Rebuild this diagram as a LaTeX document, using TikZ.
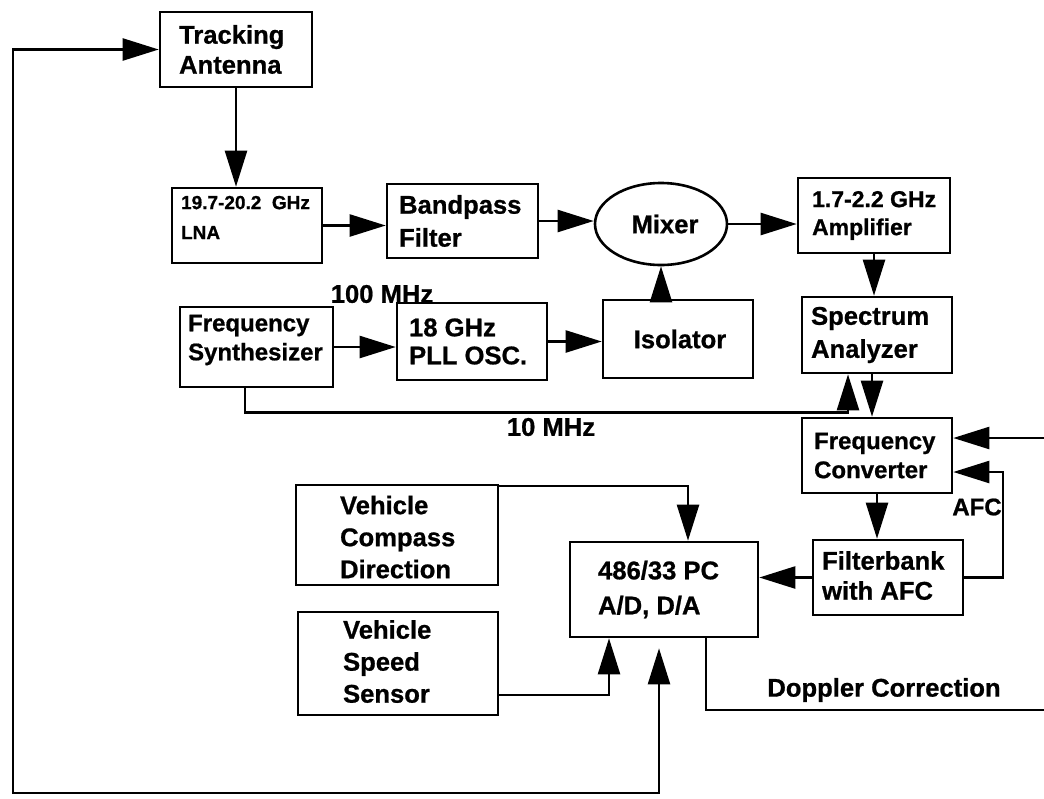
\documentclass[tikz,border=0pt]{standalone}
\usepackage{fontspec}
\setmainfont{Liberation Sans}[BoldFeatures={FakeBold=0.8}]
\usetikzlibrary{arrows.meta,shapes.geometric}
\begin{document}
\begin{tikzpicture}[x=0.5pt,y=-0.5pt,
  blk/.style={draw,line width=1.3pt,inner sep=0pt},
  txt/.style={anchor=west,align=left,inner sep=0pt},
  big/.style={font=\bfseries\fontsize{12.8}{#1}\selectfont},
  lbl/.style={inner sep=0pt,font=\bfseries\fontsize{12.8}{15}\selectfont},
  wire/.style={line width=1.2pt},
  tip/.tip={Triangle[length=18pt,width=11pt]},
  arr/.style={wire,-tip},
]
\useasboundingbox (0,0) rectangle (1044,798);

% boxes
\node[blk,minimum width=76pt,minimum height=37.5pt] (ant) at (236,49.5) {};
\node[blk,minimum width=75pt,minimum height=37.5pt] (lna) at (247,225.5) {};
\node[blk,minimum width=75.5pt,minimum height=37pt] (bpf) at (462.5,221) {};
\node[blk,ellipse,minimum width=66pt,minimum height=41pt] (mixer) at (661,224) {};
\node[blk,minimum width=76pt,minimum height=37.5pt] (amp) at (874,215.5) {};
\node[blk,minimum width=76.5pt,minimum height=40pt] (syn) at (256.5,347) {};
\node[blk,minimum width=75pt,minimum height=38.5pt] (pll) at (472,341.5) {};
\node[blk,minimum width=75pt,minimum height=39pt] (iso) at (678,339) {};
\node[blk,minimum width=75pt,minimum height=38pt] (spec) at (877,335) {};
\node[blk,minimum width=75pt,minimum height=37.5pt] (conv) at (877,455.5) {};
\node[blk,minimum width=75pt,minimum height=37.5pt] (fb) at (888,577.5) {};
\node[blk,minimum width=94pt,minimum height=47.5pt] (pc) at (664,589.5) {};
\node[blk,minimum width=101pt,minimum height=50pt] (comp) at (397,535) {};
\node[blk,minimum width=100pt,minimum height=51.5pt] (spd) at (398,663.5) {};

% box texts
\node[txt,big=15] (antT) at ([xshift=10pt]ant.west) {Tracking\\Antenna};
\node[txt,font=\bfseries\fontsize{9.5}{15}\selectfont] (lnaT) at ([xshift=5pt,yshift=4pt]lna.west) {19.7-20.2~ GHz\\LNA};
\node[txt,big=16.5] (bpfT) at ([xshift=6.5pt]bpf.west) {Bandpass\\Filter};
\node[inner sep=0pt,big=15] (mixT) at ([xshift=2pt]mixer.center) {Mixer};
\node[txt,font=\bfseries\fontsize{11.5}{14}\selectfont] (ampT) at ([xshift=7.5pt]amp.west) {1.7-2.2 GHz\\Amplifier};
\node[txt,font=\bfseries\fontsize{12}{14.5}\selectfont] (synT) at ([xshift=4.5pt,yshift=3.5pt]syn.west) {Frequency\\Synthesizer};
\node[txt,big=14] (pllT) at ([xshift=6.5pt]pll.west) {18 GHz\\PLL OSC.};
\node[inner sep=0pt,big=15] (isoT) at ([xshift=1pt]iso.center) {Isolator};
\node[txt,big=16.5] (specT) at ([xshift=5pt]spec.west) {Spectrum\\Analyzer};
\node[txt,font=\bfseries\fontsize{12}{14.5}\selectfont] (convT) at ([xshift=6.5pt]conv.west) {Frequency\\Converter};
\node[txt,big=15] (fbT) at ([xshift=5pt,yshift=1pt]fb.west) {Filterbank\\with AFC};
\node[txt,big=17.5] (pcT) at ([xshift=14.5pt]pc.west) {486/33 PC\\A/D, D/A};
\node[txt,big=16] (compT) at ([xshift=22.5pt,yshift=-1pt]comp.west) {Vehicle\\Compass\\Direction};
\node[txt,big=16] (spdT) at ([xshift=23pt,yshift=1pt]spd.west) {Vehicle\\Speed\\Sensor};

% free labels
\node[lbl] (l100) at (382,294) {100 MHz};
\node[lbl] (l10) at (551,427) {10 MHz};
\node[lbl,font=\bfseries\fontsize{12}{14}\selectfont] (lafc) at (977,507) {AFC};
\node[lbl] (ldop) at (884,690) {Doppler Correction};

% connectors
\draw[arr] (ant.south) -- (ant.south |- lna.north);
\draw[arr] (lna.east) -- (lna.east -| bpf.west);
\draw[arr] (bpf.east) -- (bpf.east -| mixer.west);
\draw[arr] (mixer.east) -- (mixer.east -| amp.west);
\draw[arr] (amp.south) -- (amp.south |- spec.north);
\draw[arr] (syn.east) -- (syn.east -| pll.west);
\draw[arr] (pll.east) -- (pll.east -| iso.west);
\draw[arr] (iso.north -| mixer.south) -- (mixer.south);
\draw[arr] ([xshift=-5.75pt]syn.south) |- ([xshift=-14.5pt,yshift=-19pt]spec.south) -- ([xshift=-14.5pt]spec.south);
\draw[arr] ([xshift=-2.5pt]spec.south) -- ([xshift=-2.5pt]spec.south |- conv.north);

\coordinate (rin) at (1044,438);
\draw[arr] (rin) -- (rin -| conv.east);
\coordinate (afc) at (1003,472);
\draw[arr] (fb.east) -| (afc) -- (afc -| conv.east);
\draw[arr] (conv.south) -- (conv.south |- fb.north);
\draw[arr] (fb.west) -- (fb.west -| pc.east);

\draw[arr] ([yshift=-1pt]comp.north east) -| ([xshift=12pt]pc.north);
\draw[arr] ([yshift=-15.75pt]spd.east) -| ([xshift=-27.5pt]pc.south);

\coordinate (dop) at (1044,710);
\draw[wire] ([xshift=21pt]pc.south) |- (dop);

\coordinate (fbl) at (13,793);
\draw[wire,tip-tip] (ant.west) -| (fbl) -| ([xshift=-2.5pt,yshift=-5pt]pc.south);
\end{tikzpicture}
\end{document}
